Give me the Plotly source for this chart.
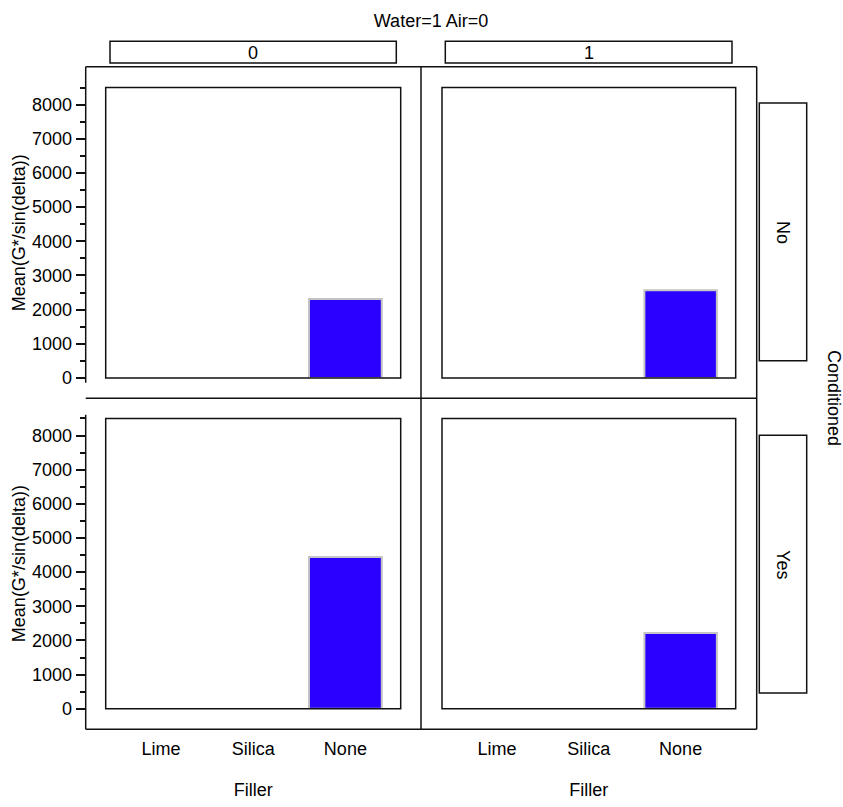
import plotly.graph_objects as go

# Bar chart of mean G*/sin(delta) by filler, faceted by Water/Air (columns) and Conditioned (rows)
fillers = ["Lime", "Silica", "None"]
water_levels = ["0", "1"]
conditioned_levels = ["No", "Yes"]

mean_no_water0 = [None, None, 2313]
mean_no_water1 = [None, None, 2564]
mean_yes_water0 = [None, None, 4444]
mean_yes_water1 = [None, None, 2217]

y_ticks = [0, 1000, 2000, 3000, 4000, 5000, 6000, 7000, 8000]

W, H = 843, 807
FONT = "Liberation Sans, Arial, sans-serif"
BAR_COLOR = "#2b00ff"
LINE = "#111111"


def px(x):
    return x / W


def py(y):
    return 1 - y / H


# panel boxes in pixel coordinates (left, right, top, bottom)
col_x = [(105.7, 400.7), (442.0, 735.7)]
row_y = [(88.7, 382.7), (423.7, 717.7)]
series = [[mean_no_water0, mean_no_water1], [mean_yes_water0, mean_yes_water1]]

fig = go.Figure()
layout = dict(
    width=W, height=H, autosize=False,
    margin=dict(l=0, r=0, t=0, b=0),
    paper_bgcolor="white", plot_bgcolor="white",
    showlegend=False,
    font=dict(family=FONT, size=18, color="black"),
    bargap=0.2,
)

shapes = []
annotations = []

idx = 0
for r in range(2):
    for c in range(2):
        idx += 1
        xa = "x" if idx == 1 else f"x{idx}"
        ya = "y" if idx == 1 else f"y{idx}"
        xkey = "xaxis" if idx == 1 else f"xaxis{idx}"
        ykey = "yaxis" if idx == 1 else f"yaxis{idx}"
        x0, x1 = col_x[c]
        y0, y1 = row_y[r]
        bottom_row = r == 1
        left_col = c == 0

        fig.add_trace(go.Bar(
            x=fillers, y=series[r][c], xaxis=xa, yaxis=ya,
            marker=dict(color=BAR_COLOR, line=dict(color="#c4c4c4", width=2)),
            width=0.79, hoverinfo="x+y",
        ))

        xcfg = dict(
            domain=[px(x0), px(x1)],
            type="category", categoryorder="array", categoryarray=fillers,
            range=[-0.6, 2.6],
            showgrid=False, zeroline=False, showline=False,
            ticks="", showticklabels=bottom_row,
            tickfont=dict(family=FONT, size=18, color="black"),
        )
        if bottom_row:
            xcfg.update(anchor="free", position=py(738.3), ticklabelstandoff=7,
                        title=dict(text="Filler", standoff=25,
                                   font=dict(family=FONT, size=18, color="black")))
        else:
            xcfg.update(anchor=ya)
        layout[xkey] = xcfg

        ycfg = dict(
            domain=[py(y1), py(y0)],
            range=[0, 8500],
            showgrid=False, zeroline=False, showline=False,
            showticklabels=left_col,
        )
        if left_col:
            ycfg.update(
                anchor="free", position=px(85.7),
                tickvals=y_ticks, ticks="outside", ticklen=10, tickwidth=1.5,
                tickcolor=LINE,
                minor=dict(dtick=500, tick0=0, ticks="outside", ticklen=6,
                           tickwidth=1.5, tickcolor=LINE),
                tickfont=dict(family=FONT, size=18, color="black"),
                title=dict(text="Mean(G*/sin(delta))", standoff=0,
                           font=dict(family=FONT, size=18, color="black")),
            )
        else:
            ycfg.update(anchor=xa, ticks="")
        layout[ykey] = ycfg

        # inner plotting frame
        shapes.append(dict(type="rect", xref=f"{xa} domain", yref=f"{ya} domain",
                           x0=0, x1=1, y0=0, y1=1, layer="above",
                           line=dict(color=LINE, width=1.5), fillcolor="rgba(0,0,0,0)"))


def hline(y, xa, xb):
    shapes.append(dict(type="line", xref="paper", yref="paper",
                       x0=px(xa), x1=px(xb), y0=py(y), y1=py(y),
                       line=dict(color=LINE, width=1.5)))


def vline(x, ya, yb):
    shapes.append(dict(type="line", xref="paper", yref="paper",
                       x0=px(x), x1=px(x), y0=py(ya), y1=py(yb),
                       line=dict(color=LINE, width=1.5)))


# outer panel frames
hline(67.7, 85.7, 756.7)
hline(403.3, 85.7, 756.7)
hline(738.3, 85.7, 756.7)
vline(421.0, 67.7, 738.3)
vline(756.7, 67.7, 738.3)
vline(85.7, 67.7, 387.5)
vline(85.7, 420.0, 738.3)

# column strips
strip_cols = [(110.0, 396.3), (445.3, 732.0)]
for (sx0, sx1), lab in zip(strip_cols, water_levels):
    shapes.append(dict(type="rect", xref="paper", yref="paper",
                       x0=px(sx0), x1=px(sx1), y0=py(63.7), y1=py(41.7),
                       line=dict(color=LINE, width=1.5), fillcolor="white"))
    annotations.append(dict(text=lab, xref="paper", yref="paper",
                            x=px((sx0 + sx1) / 2), y=py(53.5), showarrow=False,
                            xanchor="center", yanchor="middle",
                            font=dict(family=FONT, size=18, color="black")))

# row strips
strip_rows = [(104.3, 365.3), (440.7, 701.7)]
for (sy0, sy1), lab in zip(strip_rows, conditioned_levels):
    shapes.append(dict(type="rect", xref="paper", yref="paper",
                       x0=px(759.3), x1=px(806.7), y0=py(sy1), y1=py(sy0),
                       line=dict(color=LINE, width=1.5), fillcolor="white"))
    annotations.append(dict(text=lab, xref="paper", yref="paper",
                            x=px(783.0), y=py((sy0 + sy1) / 2), showarrow=False,
                            textangle=90, xanchor="center", yanchor="middle",
                            font=dict(family=FONT, size=18, color="black")))

annotations.append(dict(text="Conditioned", xref="paper", yref="paper",
                        x=px(834.0), y=py(403.0), showarrow=False, textangle=90,
                        xanchor="center", yanchor="middle",
                        font=dict(family=FONT, size=18, color="black")))

layout["title"] = dict(text="Water=1 Air=0", x=px(431.0), y=py(21.0),
                       xanchor="center", yanchor="middle",
                       font=dict(family=FONT, size=18, color="black"))
layout["shapes"] = shapes
layout["annotations"] = annotations

fig.update_layout(**layout)
fig.write_html("out.html")
